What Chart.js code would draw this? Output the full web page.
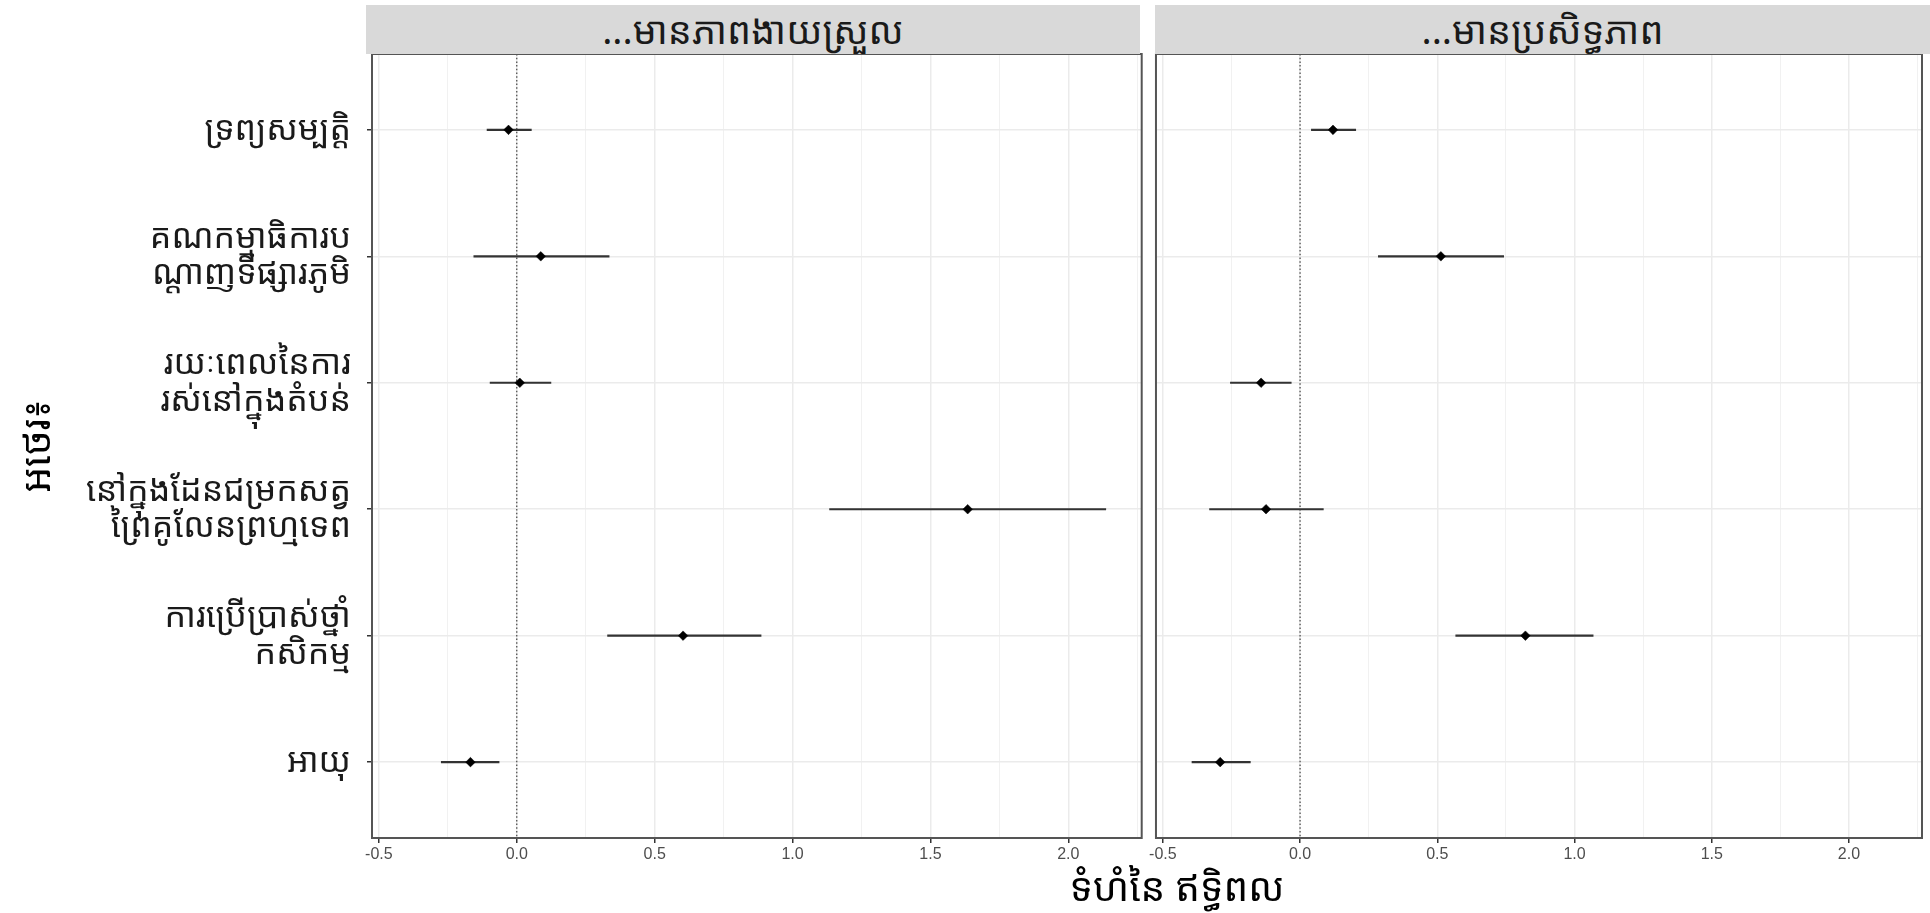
<!DOCTYPE html>
<html>
<head>
<meta charset="utf-8">
<script src="https://cdn.jsdelivr.net/npm/chart.js@4.4.1/dist/chart.umd.min.js"></script>
<style>
  html, body { margin: 0; padding: 0; background: #ffffff; overflow: hidden; }
  body { width: 1930px; height: 913px; position: relative; }
  canvas { position: absolute; top: 0; }
  #cLeft { left: 0px; }
  #cRight { left: 1147px; }
  .strip { position: absolute; top: 5px; height: 49px; background: #d9d9d9; color: #1a1a1a;
           font-family: 'Noto Sans Khmer','Khmer OS','Khmer OS System','Noto Serif Khmer','Hanuman','DejaVu Sans',sans-serif;
           font-size: 38px; line-height: 49px; text-align: center; white-space: nowrap; z-index: 2; overflow: hidden; }
  #xtitle { position: absolute; left: 927px; width: 500px; top: 860px; height: 52px; text-align: center;
            font-family: 'Noto Sans Khmer','Khmer OS','Khmer OS System','Noto Serif Khmer','Hanuman','DejaVu Sans',sans-serif;
            font-size: 39px; line-height: 52px; color: #000; white-space: nowrap; }
</style>
</head>
<body>
<canvas id="cLeft" width="1147" height="913"></canvas>
<canvas id="cRight" width="783" height="913"></canvas>
<div class="strip" id="stripLeft" style="left:366px; width:774px;"></div>
<div class="strip" id="stripRight" style="left:1155px; width:775px;"></div>
<div id="xtitle"></div>
<script>
// ---------- data ----------
const categories = [
  ['ទ្រព្យសម្បត្តិ'],
  ['គណកម្មាធិការប', 'ណ្ដាញទីផ្សារភូមិ'],
  ['រយៈពេលនៃការ', 'រស់នៅក្នុងតំបន់'],
  ['នៅក្នុងដែនជម្រកសត្វ', 'ព្រៃគូលែនព្រហ្មទេព'],
  ['ការប្រើប្រាស់ថ្នាំ', 'កសិកម្ម'],
  ['អាយុ']
];
const panelTitles = ['...មានភាពងាយស្រួល', '...មានប្រសិទ្ធភាព'];

const easeEst  = [-0.030, 0.087, 0.011, 1.635, 0.603, -0.168];
const easeLow  = [-0.109, -0.157, -0.098, 1.133, 0.328, -0.275];
const easeHigh = [ 0.054, 0.336, 0.125, 2.137, 0.887, -0.063];

const effEst  = [ 0.120, 0.513, -0.142, -0.124, 0.821, -0.291];
const effLow  = [ 0.040, 0.284, -0.255, -0.331, 0.566, -0.395];
const effHigh = [ 0.204, 0.743, -0.031,  0.086, 1.069, -0.180];

const xMajorTicks = [-0.5, 0.0, 0.5, 1.0, 1.5, 2.0];
const xMinorTicks = [-0.25, 0.25, 0.75, 1.25, 1.75, 2.25];
const referenceValue = [0];

const xTitle = 'ទំហំនៃ ឥទ្ធិពល';
const yTitle = 'អថេរ៖';

// ---------- text ----------
document.getElementById('stripLeft').textContent = panelTitles[0];
document.getElementById('stripRight').textContent = panelTitles[1];
document.getElementById('xtitle').textContent = xTitle;

// ---------- helpers ----------
const KHMER = "'Noto Sans Khmer','Khmer OS','Khmer OS System','Noto Serif Khmer','Hanuman','DejaVu Sans',sans-serif";
const NARROW = "'Liberation Sans Narrow','Arial Narrow','Liberation Sans',sans-serif";
const X_MIN = -0.525, X_MAX = 2.266;
const Y_MIN = -0.6, Y_MAX = categories.length - 1 + 0.6;
const isMajor = v => xMajorTicks.some(t => Math.abs(t - v) < 1e-6);

function buildDatasets(est, low, high) {
  const points = est.map((v, i) => ({ x: v, y: i }));
  const bars = [];
  low.forEach((l, i) => { bars.push({ x: l, y: i }, { x: high[i], y: i }, { x: null, y: null }); });
  const zero = [{ x: referenceValue[0], y: Y_MIN }, { x: referenceValue[0], y: Y_MAX }];
  return [
    { type: 'scatter', data: points, pointStyle: 'rectRot', pointRadius: 4.8,
      backgroundColor: '#000', borderColor: '#000', borderWidth: 0.5 },
    { type: 'line', data: bars, borderColor: '#333333', borderWidth: 2.2, pointRadius: 0,
      spanGaps: false, tension: 0, fill: false },
    { type: 'line', data: zero, borderColor: '#333333', borderWidth: 1.1, borderDash: [1.5, 2.2],
      pointRadius: 0, tension: 0, fill: false }
  ];
}

const panelBorder = {
  id: 'panelBorder',
  afterDraw(chart) {
    const a = chart.chartArea, ctx = chart.ctx;
    ctx.save();
    ctx.strokeStyle = '#555555';
    ctx.lineWidth = 2;
    ctx.strokeRect(a.left, a.top, a.right - a.left, a.bottom - a.top);
    ctx.restore();
  }
};

function xScale() {
  return {
    type: 'linear', min: X_MIN, max: X_MAX,
    afterBuildTicks: s => { s.ticks = xMajorTicks.concat(xMinorTicks).sort((a, b) => a - b).map(v => ({ value: v })); },
    afterFit: s => { s.height = 30; },
    ticks: {
      autoSkip: false, maxRotation: 0, padding: 2, color: '#4d4d4d',
      font: { family: NARROW, size: 16 },
      callback: v => isMajor(v) ? v.toFixed(1) : ''
    },
    grid: {
      color: c => (c.tick && isMajor(c.tick.value)) ? '#ebebeb' : '#f1f1f1',
      lineWidth: c => (c.tick && isMajor(c.tick.value)) ? 1.5 : 1,
      tickColor: c => (c.tick && isMajor(c.tick.value)) ? '#333333' : 'rgba(0,0,0,0)',
      tickLength: 5, tickWidth: 1.5, drawTicks: true
    },
    border: { display: false }
  };
}

function yScale(showLabels) {
  return {
    type: 'linear', min: Y_MIN, max: Y_MAX, reverse: true,
    afterBuildTicks: s => { s.ticks = categories.map((c, i) => ({ value: i })); },
    afterFit: s => { s.width = showLabels ? 372 : 4.7; },
    ticks: {
      display: showLabels, autoSkip: false, padding: 16, color: '#1a1a1a',
      font: { family: KHMER, size: 34, lineHeight: 1.08 },
      callback: v => categories[Math.round(v)]
    },
    grid: { color: '#ebebeb', lineWidth: 1.5, tickColor: '#333333', tickLength: 5, tickWidth: 1.5,
            drawTicks: showLabels },
    border: { display: false },
    title: showLabels ? { display: true, text: yTitle, color: '#000',
                          font: { family: KHMER, size: 40, lineHeight: 1.2 },
                          padding: { top: 15, bottom: 0 } } : { display: false }
  };
}

function makeChart(id, est, low, high, showLabels, padRight) {
  return new Chart(document.getElementById(id), {
    data: { datasets: buildDatasets(est, low, high) },
    options: {
      responsive: false, animation: false, devicePixelRatio: 1,
      layout: { padding: { left: 0, right: padRight, top: 54, bottom: 45 } },
      plugins: { legend: { display: false }, tooltip: { enabled: false }, title: { display: false } },
      scales: { x: xScale(), y: yScale(showLabels) }
    },
    plugins: [panelBorder]
  });
}

makeChart('cLeft', easeEst, easeLow, easeHigh, true, 4.3);
makeChart('cRight', effEst, effLow, effHigh, false, 8);
</script>
</body>
</html>
